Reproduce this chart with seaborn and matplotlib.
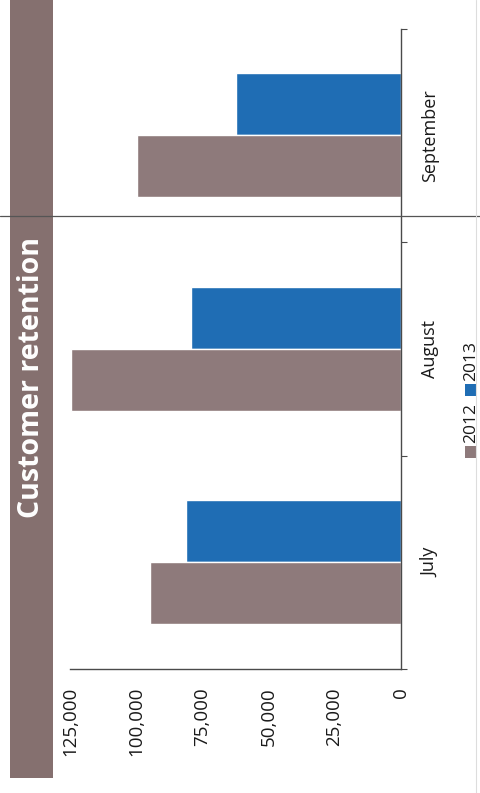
import matplotlib
matplotlib.use("Agg")
import matplotlib.pyplot as plt
from matplotlib.patches import Rectangle
from matplotlib.lines import Line2D
from matplotlib.ticker import StrMethodFormatter
import seaborn as sns
import pandas as pd

months = ["July", "August", "September"]
years = ["2012", "2013"]
retention_2012 = [94600, 124500, 99700]
retention_2013 = [81000, 79100, 62400]
value_ticks = [0, 25000, 50000, 75000, 100000, 125000]
title = "Customer retention"

BROWN = "#8e7a7b"
BAND = "#85706f"
BLUE = "#1f6db4"
W, H = 480, 793

sns.set_style("white")
plt.rcParams['font.family'] = ['Open Sans', 'DejaVu Sans']

df = pd.DataFrame({
    "month": months * 2,
    "year": [years[0]] * 3 + [years[1]] * 3,
    "value": retention_2012 + retention_2013,
})

fig = plt.figure(figsize=(W / 100, H / 100), dpi=100)
# axes box in pixel terms: value 0 at x=400, 125k at x=70, categories from y=28 to y=669
ax = fig.add_axes([70 / W, (H - 669) / H, (400.5 - 70) / W, (669 - 28.5) / H])

# whole chart is drawn turned 90 degrees, like the scan: bars grow to the left
sns.barplot(data=df, x="value", y="month", hue="year", orient="h",
            order=months[::-1], hue_order=years[::-1],
            palette={"2012": BROWN, "2013": BLUE}, saturation=1,
            width=0.58, gap=0, legend=False, ax=ax)

ax.set_xlim(value_ticks[-1], 0)
ax.set_ylim(2.5, -0.5)
ax.set_xlabel("")
ax.set_ylabel("")

for side in ["top", "left"]:
    ax.spines[side].set_visible(False)
for side in ["bottom", "right"]:
    ax.spines[side].set_color("#4a4a4a")
    ax.spines[side].set_linewidth(1)

ax.set_xticks(value_ticks)
ax.xaxis.set_major_formatter(StrMethodFormatter("{x:,.0f}"))
ax.tick_params(axis="x", labelrotation=90, length=3, width=0.8, color="#4a4a4a",
               pad=10, labelsize=13.5, labelcolor="#1a1a1a")

ax.yaxis.tick_right()
ax.set_yticks([-0.5, 0.5, 1.5, 2.5], minor=True)
ax.tick_params(axis="y", which="major", length=0, pad=15, labelrotation=90,
               labelsize=13, labelcolor="#1a1a1a")
ax.tick_params(axis="y", which="minor", right=True, left=False, length=4,
               width=0.8, color="#4a4a4a")
for lbl in ax.get_yticklabels():
    lbl.set_va("center")

# title band on the left
fig.add_artist(Rectangle((10 / W, 15 / H), 43 / W, 778 / H, transform=fig.transFigure,
                         facecolor=BAND, edgecolor="none", zorder=0))
fig.text(32 / W, (H - 377) / H, title, rotation=90, color="white", fontsize=20.5,
         fontweight="bold", ha="center", va="center")

# legend, turned like the rest of the chart
legend_items = [("2012", BROWN, 458), ("2013", BLUE, 396)]
for label, color, y_bottom in legend_items:
    fig.add_artist(Rectangle((465 / W, (H - y_bottom) / H), 11 / W, 12 / H,
                             transform=fig.transFigure, facecolor=color, edgecolor="none"))
    fig.text(471 / W, (H - y_bottom + 15) / H, label, rotation=90, fontsize=12.5,
             color="#1a1a1a", ha="center", va="bottom")

# scan fold line and faint page edge
fig.add_artist(Line2D([0, 1], [(H - 216) / H] * 2, transform=fig.transFigure,
                      color="#555555", linewidth=0.9))
fig.add_artist(Line2D([476 / W] * 2, [0, 1], transform=fig.transFigure,
                      color="#dddddd", linewidth=0.8))

fig.savefig("out.png", dpi=100)
